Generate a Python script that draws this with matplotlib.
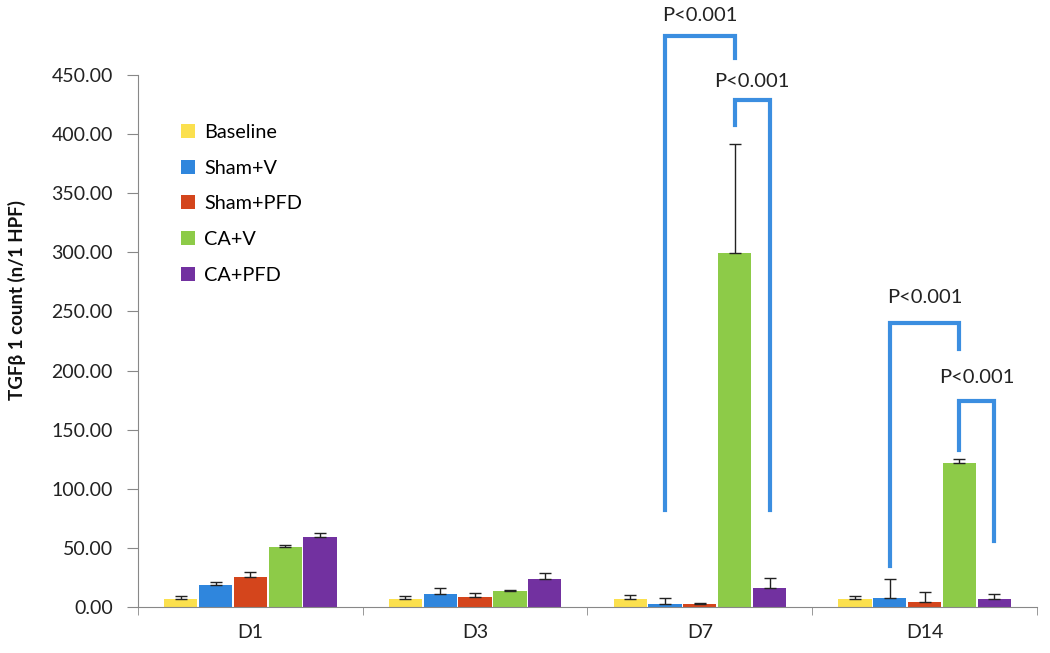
import numpy as np
import matplotlib.pyplot as plt

plt.rcParams['font.family'] = ['Lato', 'DejaVu Sans']

# data
days = ['D1', 'D3', 'D7', 'D14']
groups = ['Baseline', 'Sham+V', 'Sham+PFD', 'CA+V', 'CA+PFD']
colors = ['#FBE04E', '#2F86DD', '#D4451C', '#8DCB48', '#7231A0']

baseline = [6.5, 6.5, 7.0, 6.5]
sham_v = [18.6, 11.0, 2.5, 7.5]
sham_pfd = [25.0, 8.7, 2.8, 4.3]
ca_v = [50.7, 13.8, 299.5, 121.5]
ca_pfd = [59.0, 24.0, 16.0, 6.8]

baseline_err = [3.0, 3.0, 3.0, 3.0]
sham_v_err = [2.5, 4.8, 5.5, 16.2]
sham_pfd_err = [4.3, 2.9, 0.8, 8.7]
ca_v_err = [1.7, 0.9, 92.0, 3.7]
ca_pfd_err = [3.9, 5.0, 8.5, 4.5]

values = [baseline, sham_v, sham_pfd, ca_v, ca_pfd]
errors = [baseline_err, sham_v_err, sham_pfd_err, ca_v_err, ca_pfd_err]

# significance brackets: (day index, left group, right group, left leg bottom, top, right leg bottom, label y)
brackets = [
    (2, 1, 3, 82, 483, 464, 493),
    (2, 3, 4, 408, 429, 82, 437),
    (3, 1, 3, 35, 240, 218, 255),
    (3, 3, 4, 133, 174, 56, 187),
]

fig = plt.figure(figsize=(10.5, 6.53), dpi=100)
ax = fig.add_axes([0.1314, 0.0704, 0.8562, 0.8148])

x = np.arange(len(days))
step = 0.155
width = 0.148
for i, (g, c) in enumerate(zip(groups, colors)):
    pos = x + (i - 2) * step
    ax.bar(pos, values[i], width, color=c, label=g, zorder=2)
    ax.errorbar(pos, values[i], yerr=[np.zeros(len(days)), errors[i]], fmt='none',
                ecolor='#222222', elinewidth=1, capsize=4, capthick=1, zorder=3)

for d, g1, g2, y1, ytop, y2, ty in brackets:
    xa = d + (g1 - 2) * step
    xb = d + (g2 - 2) * step
    ax.plot([xa, xa, xb, xb], [y1, ytop, ytop, y2], color='#3B8EE0', lw=3,
            solid_joinstyle='miter', clip_on=False, zorder=4)
    ax.text((xa + xb) / 2, ty, 'P<0.001', ha='center', va='bottom', fontsize=14.5,
            color='#222222')

ax.set_xlim(-0.5, 3.5)
ax.set_ylim(0, 450)
ax.set_yticks(np.arange(0, 451, 50))
ax.set_yticklabels(['%.2f' % v for v in np.arange(0, 451, 50)], fontsize=14, color='#222222')
ax.set_xticks(x)
ax.set_xticklabels(days, fontsize=14, color='#222222')
ax.set_xticks(np.arange(-0.5, 3.6, 1), minor=True)
ax.tick_params(axis='x', which='major', length=0, pad=12)
ax.tick_params(axis='x', which='minor', length=6, color='#888888')
ax.tick_params(axis='y', length=8, pad=10, color='#888888')
for s in ['top', 'right']:
    ax.spines[s].set_visible(False)
ax.spines['left'].set_color('#888888')
ax.spines['bottom'].set_color('#888888')

fig.text(17 / 1050, 1 - 300 / 653, 'TGFβ 1 count (n/1 HPF)', rotation=90, ha='center',
         va='center', fontsize=13.5, fontweight='bold', color='#111111')

ax.legend(loc='upper left', bbox_to_anchor=(0.155, 0.838), bbox_transform=fig.transFigure,
          frameon=False, fontsize=14.3, handlelength=0.7, handleheight=0.7,
          handletextpad=0.5, labelspacing=0.95)

fig.savefig('out.png', dpi=100)
